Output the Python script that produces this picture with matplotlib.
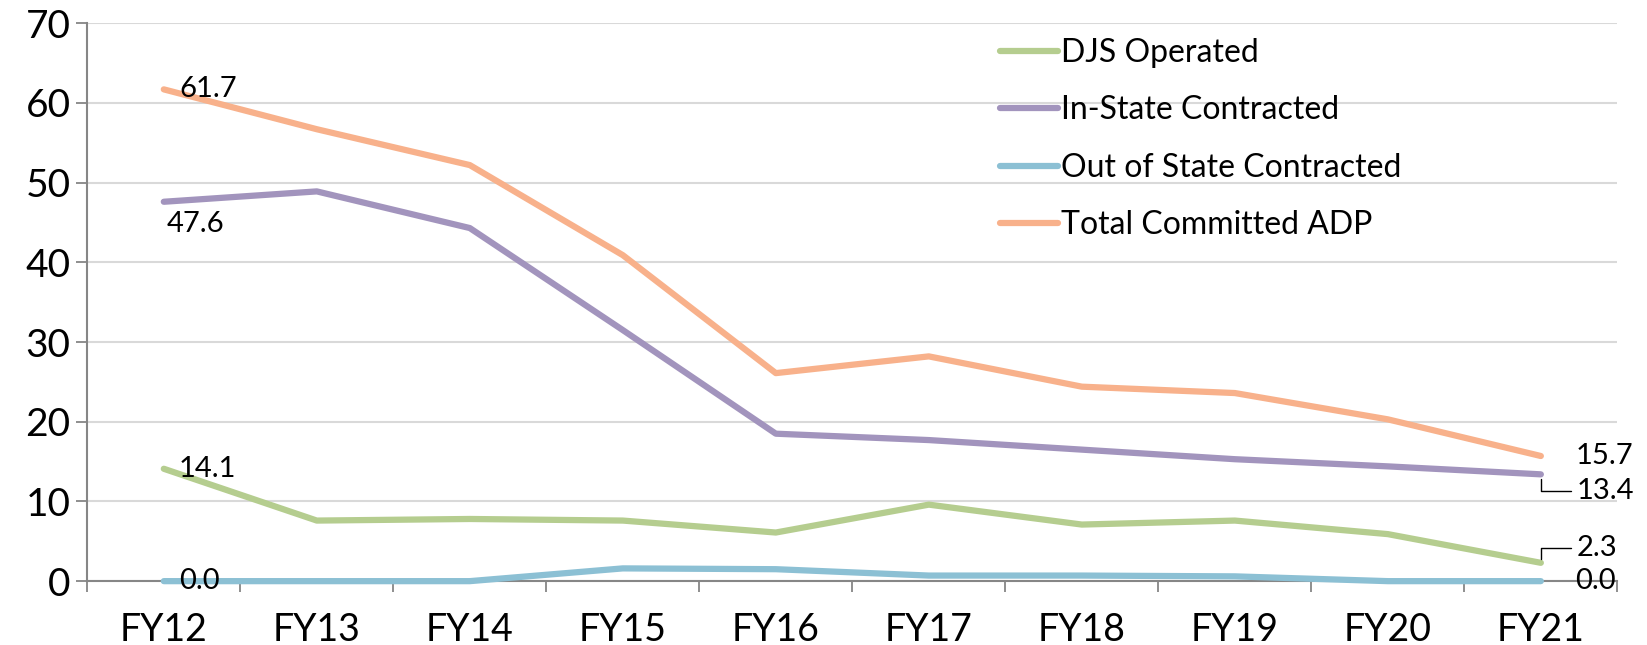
import matplotlib.pyplot as plt
import numpy as np

plt.rcParams['font.family'] = ['Lato', 'DejaVu Sans']

years = ['FY12', 'FY13', 'FY14', 'FY15', 'FY16', 'FY17', 'FY18', 'FY19', 'FY20', 'FY21']
djs_operated = [14.1, 7.6, 7.8, 7.6, 6.1, 9.6, 7.1, 7.6, 5.9, 2.3]
in_state = [47.6, 48.9, 44.3, 31.5, 18.5, 17.7, 16.5, 15.3, 14.4, 13.4]
out_of_state = [0.0, 0.0, 0.0, 1.6, 1.5, 0.7, 0.7, 0.6, 0.0, 0.0]
total_adp = [61.7, 56.7, 52.2, 40.9, 26.1, 28.2, 24.4, 23.6, 20.3, 15.7]

names = ['DJS Operated', 'In-State Contracted', 'Out of State Contracted', 'Total Committed ADP']
colors = ['#B5CD8F', '#A294BD', '#8CC0D4', '#F8B18B']
series = [djs_operated, in_state, out_of_state, total_adp]

fig = plt.figure(figsize=(16.47, 6.45), dpi=100)
ax = fig.add_axes([0.053, 0.099, 0.929, 0.865])
x = np.arange(len(years))

for vals, name, col in zip(series, names, colors):
    ax.plot(x, vals, color=col, linewidth=4.5, label=name, solid_capstyle='round', clip_on=False, zorder=3)

ax.set_xlim(-0.5, len(years) - 0.5)
ax.set_ylim(0, 70)
ax.set_yticks(range(0, 71, 10))
ax.set_xticks(x)
ax.set_xticklabels(years)
ax.set_xticks(np.arange(-0.5, len(years), 1), minor=True)
ax.tick_params(axis='x', which='major', length=0, pad=22, labelsize=27)
ax.tick_params(axis='x', which='minor', length=8, color='#868686', width=1.3)
ax.tick_params(axis='y', length=8, color='#868686', width=1.3, labelsize=28, pad=4)
ax.grid(axis='y', color='#D9D9D9', linewidth=1.5)
ax.set_axisbelow(True)
for s in ['top', 'right']:
    ax.spines[s].set_visible(False)
for s in ['left', 'bottom']:
    ax.spines[s].set_color('#868686')
    ax.spines[s].set_linewidth(1.5)

fs = 21
leader = dict(arrowstyle='-', color='black', lw=1, connectionstyle='angle,angleA=0,angleB=90,rad=0', shrinkA=2, shrinkB=3)
# first-point labels
ax.annotate(f'{total_adp[0]:.1f}', (0, total_adp[0]), xytext=(11, 0), textcoords='offset points', fontsize=fs, va='center')
ax.annotate(f'{in_state[0]:.1f}', (0, in_state[0]), xytext=(2, -7), textcoords='offset points', fontsize=fs, va='top')
ax.annotate(f'{djs_operated[0]:.1f}', (0, djs_operated[0]), xytext=(11, 0), textcoords='offset points', fontsize=fs, va='center')
ax.annotate(f'{out_of_state[0]:.1f}', (0, out_of_state[0]), xytext=(11, 0), textcoords='offset points', fontsize=fs, va='center')
# last-point labels
n = len(years) - 1
ax.annotate(f'{total_adp[n]:.1f}', (n, total_adp[n]), xytext=(25, 0), textcoords='offset points', fontsize=fs, va='center')
ax.annotate(f'{in_state[n]:.1f}', (n, in_state[n]), xytext=(26, -12), textcoords='offset points', fontsize=fs, va='center',
            arrowprops=leader)
ax.annotate(f'{djs_operated[n]:.1f}', (n, djs_operated[n]), xytext=(26, 11), textcoords='offset points', fontsize=fs, va='center',
            arrowprops=leader)
ax.annotate(f'{out_of_state[n]:.1f}', (n, out_of_state[n]), xytext=(25, 0), textcoords='offset points', fontsize=fs, va='center')

ax.legend(loc='upper left', bbox_to_anchor=(0.578, 1.025), frameon=False, fontsize=23, handlelength=1.8,
          handletextpad=0.1, labelspacing=0.86)

fig.savefig('out.png', dpi=100)
